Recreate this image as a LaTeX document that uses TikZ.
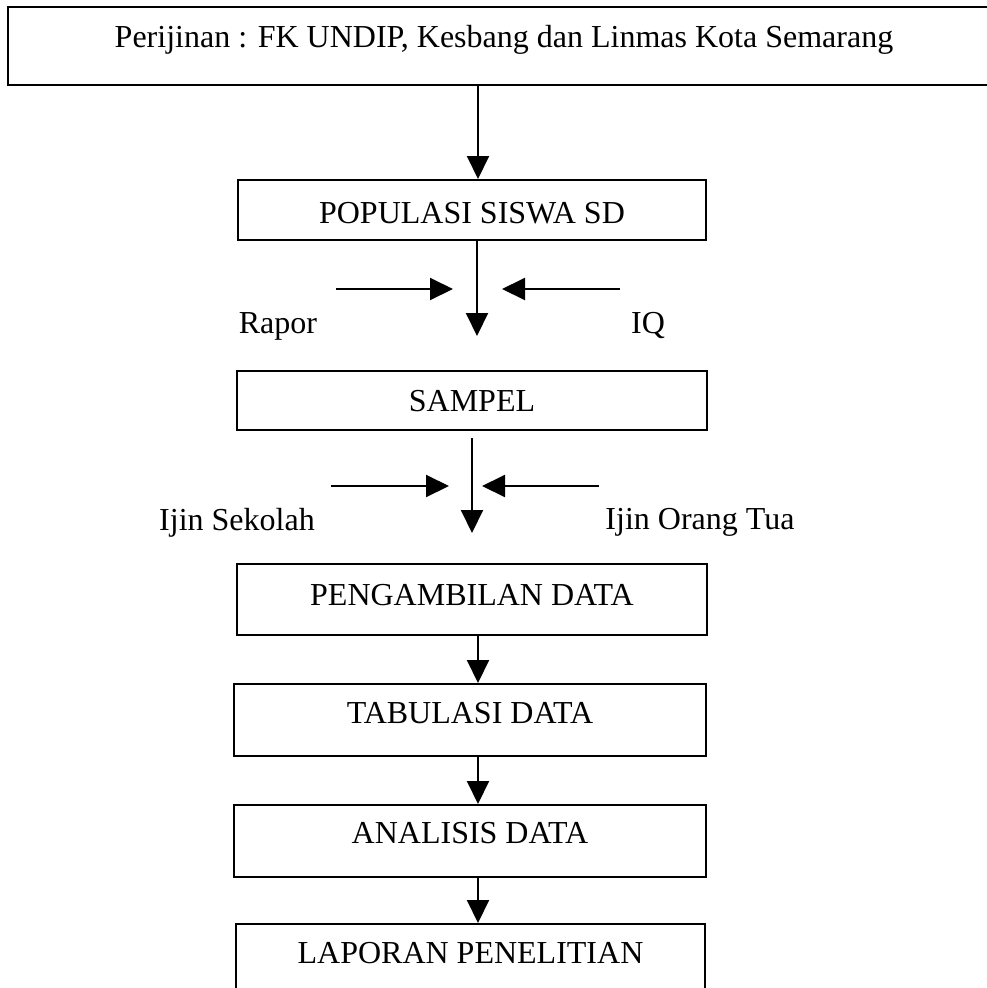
\documentclass[tikz,border=0pt]{standalone}
\usepackage{fontspec}
\setmainfont{Liberation Serif}
\usetikzlibrary{arrows.meta}
\begin{document}
\begin{tikzpicture}[x=1pt,y=-1pt,
  box/.style={draw, line width=2pt, inner sep=0pt},
  lbl/.style={font=\fontsize{32}{36}\selectfont, text height=21.2pt, text depth=0pt, inner sep=0pt},
  arr/.style={line width=2pt, -{Triangle[length=23pt,width=22pt]}}]
\useasboundingbox (0,0) rectangle (987,988);
% boxes
\node[box, minimum width=992pt, minimum height=78pt, label={[lbl, yshift=9pt]center:Perijinan : FK UNDIP, Kesbang dan Linmas Kota Semarang}] (top) at (504,46) {};
\node[box, minimum width=468pt, minimum height=60pt, label={[lbl, yshift=-3pt]center:POPULASI SISWA SD}] (pop) at (472,210) {};
\node[box, minimum width=470pt, minimum height=59pt, label={[lbl]center:SAMPEL}] (samp) at (472,400.5) {};
\node[box, minimum width=470pt, minimum height=71pt, label={[lbl, yshift=4.5pt]center:PENGAMBILAN DATA}] (peng) at (472,599.5) {};
\node[box, minimum width=472pt, minimum height=72pt, label={[lbl, yshift=7pt]center:TABULASI DATA}] (tab) at (470,720) {};
\node[box, minimum width=472pt, minimum height=72pt, label={[lbl, yshift=8pt]center:ANALISIS DATA}] (ana) at (470,841) {};
\node[box, minimum width=469pt, minimum height=72pt, label={[lbl, yshift=7pt]center:LAPORAN PENELITIAN}] (lap) at (470.5,960) {};
% side labels
\node[lbl] (rapor) at (278,323) {Rapor};
\node[lbl] (iq) at (648,323) {IQ};
\node[lbl] (sekolah) at (237,520) {Ijin Sekolah};
\node[lbl] (ortu) at (700,519) {Ijin Orang Tua};
% coordinates
\coordinate (xa) at (478,0);
\coordinate (xb) at (477,0);
\coordinate (xc) at (472,0);
\coordinate (t1) at (477,336);
\coordinate (t2) at (472,533);
\coordinate (h1s) at (336,289);
\coordinate (h1e) at (453,289);
\coordinate (h2s) at (620,289);
\coordinate (h2e) at (502,289);
\coordinate (h3s) at (331,486);
\coordinate (h3e) at (449,486);
\coordinate (h4s) at (599,486);
\coordinate (h4e) at (482,486);
% connectors
\draw[arr] (top.south -| xa) -- (pop.north -| xa);
\draw[arr] (pop.south -| xb) -- (t1);
\draw[arr] (h1s) -- (h1e);
\draw[arr] (h2s) -- (h2e);
\draw[arr, shorten <=7pt] (samp.south -| xc) -- (t2);
\draw[arr] (h3s) -- (h3e);
\draw[arr] (h4s) -- (h4e);
\draw[arr] (peng.south -| xa) -- (tab.north -| xa);
\draw[arr] (tab.south -| xa) -- (ana.north -| xa);
\draw[arr] (ana.south -| xa) -- (lap.north -| xa);
\end{tikzpicture}
\end{document}
